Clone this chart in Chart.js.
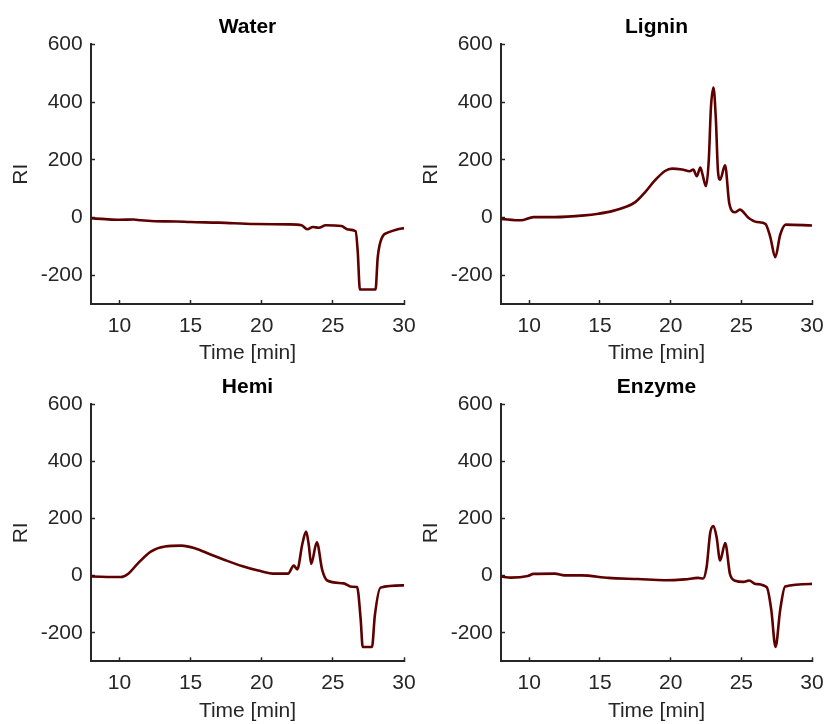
<!DOCTYPE html>
<html>
<head>
<meta charset="utf-8">
<script src="https://cdn.jsdelivr.net/npm/chart.js@4.4.1/dist/chart.umd.min.js"></script>
<style>
  html, body { margin: 0; padding: 0; background: #fff; overflow: hidden; }
  body { width: 827px; height: 724px; position: relative; }
  .panel { position: absolute; }
</style>
</head>
<body>
<div class="panel" id="p0"><canvas id="c0"></canvas></div>
<div class="panel" id="p1"><canvas id="c1"></canvas></div>
<div class="panel" id="p2"><canvas id="c2"></canvas></div>
<div class="panel" id="p3"><canvas id="c3"></canvas></div>
<script>
// RI traces, time in minutes
const waterTime = [8, 9, 10, 11, 11.5, 12.5, 14, 15, 17, 19.5, 21.9, 22.8, 23.2, 23.6, 24, 24.5, 25.6, 26.1, 26.6, 26.75, 26.9, 28.0, 28.15, 28.45, 28.9, 29.5, 30];
const waterRI   = [-3, -6, -8, -7, -10, -13, -14, -16, -18, -23, -24, -27, -41, -33, -36, -27, -30, -42, -48, -120, -250, -250, -140, -70, -52, -42, -37];

const ligninTime = [8, 9.4, 10.3, 11.8, 13.9, 14.9, 15.8, 16.8, 17.5, 18.2, 18.9, 19.6, 20.1, 20.8, 21.35, 21.6, 21.85, 22.1, 22.25, 22.5, 22.7, 22.85, 23.03, 23.2, 23.35, 23.5, 23.85, 24.15, 24.55, 24.9, 25.5, 26.1, 26.7, 27.05, 27.4, 27.75, 28.15, 30];
const ligninRI   = [-5, -10, 1, 1, 7, 13, 21, 36, 53, 88, 129, 161, 169, 166, 160, 166, 143, 173, 150, 108, 200, 380, 450, 340, 160, 131, 181, 48, 18, 27, -1, -16, -22, -68, -138, -60, -25, -28];

const hemiTime = [8, 10.1, 10.6, 11.3, 12.2, 13.2, 14.35, 15.3, 16.45, 17.4, 18.6, 19.75, 20.95, 21.85, 22.25, 22.5, 22.85, 23.12, 23.3, 23.48, 23.87, 24.25, 24.6, 25.75, 26.35, 26.7, 26.95, 27.1, 27.75, 27.95, 28.35, 30];
const hemiRI   = [-3, -5, 6, 43, 84, 102, 105, 96, 73, 55, 34, 18, 7, 7, 35, 22, 110, 154, 110, 41, 117, 20, -17, -27, -39, -40, -150, -250, -250, -140, -42, -34];

const enzymeTime = [8, 8.7, 9.9, 10.3, 11.8, 12.5, 13.7, 15.6, 17.7, 19.6, 21.0, 21.95, 22.3, 22.55, 22.8, 23.03, 23.25, 23.5, 23.86, 24.2, 24.57, 25.15, 25.55, 26.0, 26.8, 27.12, 27.42, 27.75, 28.1, 30];
const enzymeRI   = [-3, -7, -1, 6, 7, 1, 1, -8, -12, -16, -13, -8, -10, 32, 150, 174, 135, 53, 114, 5, -18, -22, -17, -29, -41, -120, -250, -120, -38, -29];

const panelTitles = ['Water', 'Lignin', 'Hemi', 'Enzyme'];
const xTicks = [10, 15, 20, 25, 30];
const yTicks = [-200, 0, 200, 400, 600];
const xLabel = 'Time [min]';
const yLabel = 'RI';

const series = [
  [waterTime, waterRI],
  [ligninTime, ligninRI],
  [hemiTime, hemiRI],
  [enzymeTime, enzymeRI]
];

// canvas boxes: left, top, width, height, x-axis box height, x-title bottom padding
const boxes = [
  { left: 0,   top: 0,   width: 434, height: 374, axisH: 70,   titlePad: 7.7 },
  { left: 410, top: 0,   width: 432, height: 374, axisH: 70,   titlePad: 7.7 },
  { left: 0,   top: 360, width: 434, height: 364, axisH: 62.7, titlePad: 0.4 },
  { left: 410, top: 360, width: 432, height: 364, axisH: 62.7, titlePad: 0.4 }
];

const axisColor = '#262626';
const lineColor = '#5e0000';
const fontFamily = '"Liberation Sans", Arial, Helvetica, sans-serif';

Chart.defaults.font.family = fontFamily;
Chart.defaults.color = axisColor;

boxes.forEach((b, i) => {
  const div = document.getElementById('p' + i);
  div.style.left = b.left + 'px';
  div.style.top = b.top + 'px';
  const canvas = document.getElementById('c' + i);
  canvas.width = b.width;
  canvas.height = b.height;

  const [t, ri] = series[i];
  const points = t.map((x, k) => ({ x: x, y: ri[k] }));

  new Chart(canvas.getContext('2d'), {
    type: 'line',
    data: {
      datasets: [{
        label: panelTitles[i],
        data: points,
        borderColor: lineColor,
        borderWidth: 2.6,
        pointRadius: 0,
        fill: false,
        cubicInterpolationMode: 'monotone'
      }]
    },
    options: {
      responsive: false,
      animation: false,
      layout: { padding: { left: 0, right: 30, top: 0, bottom: 0 } },
      plugins: {
        legend: { display: false },
        tooltip: { enabled: false },
        title: {
          display: true,
          text: panelTitles[i],
          color: '#000',
          fullSize: false,
          font: { size: 21, weight: 'bold' },
          padding: { top: 14.5, bottom: 4.6 }
        }
      },
      scales: {
        x: {
          type: 'linear',
          min: 8,
          max: 30,
          afterBuildTicks: s => { s.ticks = xTicks.map(v => ({ value: v })); },
          afterFit: s => { s.height = b.axisH; },
          grid: { drawOnChartArea: false, tickLength: -4, tickColor: axisColor, tickWidth: 1.5 },
          border: { color: axisColor, width: 2 },
          ticks: { padding: 13.4, maxRotation: 0, font: { size: 21 }, color: axisColor },
          title: { display: true, text: xLabel, font: { size: 21 }, color: axisColor, padding: { top: 0, bottom: b.titlePad } }
        },
        y: {
          type: 'linear',
          min: -300,
          max: 600,
          afterBuildTicks: s => { s.ticks = yTicks.map(v => ({ value: v })); },
          afterFit: s => { s.width = 91; },
          grid: { drawOnChartArea: false, tickLength: -4, tickColor: axisColor, tickWidth: 1.5 },
          border: { color: axisColor, width: 2 },
          ticks: { padding: 12.3, font: { size: 21 }, color: axisColor },
          title: { display: true, text: yLabel, font: { size: 21 }, color: axisColor, padding: { top: 9, bottom: 0 } }
        }
      }
    }
  });
});
</script>
</body>
</html>
